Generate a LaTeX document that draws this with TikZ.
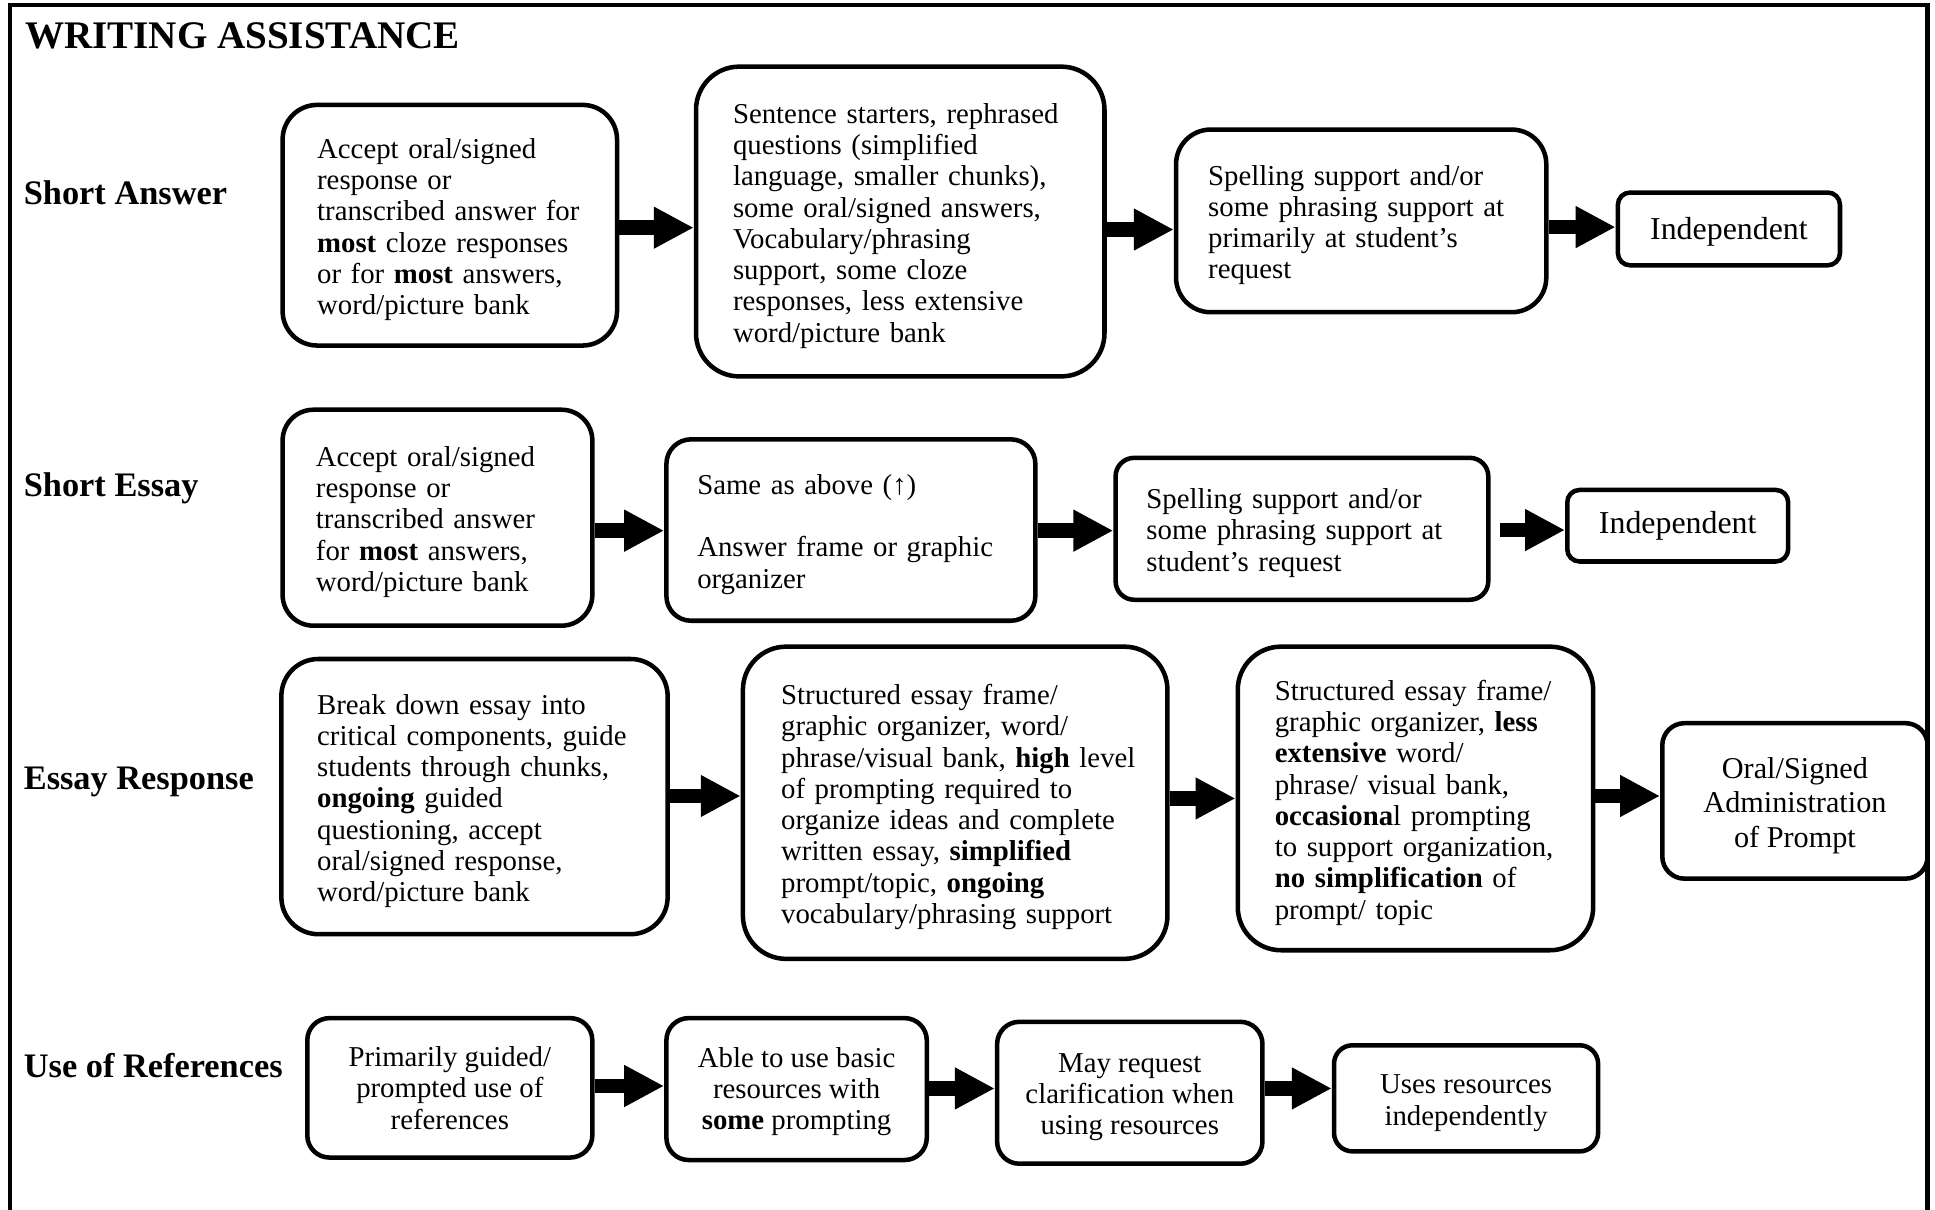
\documentclass[tikz,border=0pt]{standalone}
\usepackage{fontspec}
\setmainfont{Liberation Serif}
\usetikzlibrary{arrows.meta}
\newcommand{\lbx}[2][2.4pt]{\raisebox{-#1}[\height][\depth]{\begin{tabular}{@{}l@{}}#2\end{tabular}}}
\newcommand{\cbx}[2][2.4pt]{\raisebox{-#1}[\height][\depth]{\begin{tabular}{@{}c@{}}#2\end{tabular}}}
\tikzset{
  bx/.style={draw, line width=2.2pt, rounded corners=#1, inner sep=0pt},
  body/.style={font=\fontsize{14}{15.2}\selectfont},
  lbl/.style={font=\fontsize{16.7}{19}\selectfont\bfseries, anchor=base west, inner sep=0pt},
  ttl/.style={font=\fontsize{19}{23}\selectfont\bfseries, anchor=base west, inner sep=0pt},
  arr/.style={line width=7pt, -{Triangle[length=19.4pt,width=19pt]}},
  frame/.style={line width=2.2pt}
}
\begin{document}
\begin{tikzpicture}[x=0.6pt,y=-0.6pt]
\useasboundingbox (0,0) rectangle (1568,980);
\draw[frame] (8,982) -- (8,4) -- (1562,4) -- (1562,982);

\node[ttl] (title) at (20,39.5) {WRITING ASSISTANCE};
\node[lbl] (l1) at (19,166) {Short Answer};
\node[lbl] (l2) at (19,402) {Short Essay};
\node[lbl] (l3) at (19,640) {Essay Response};
\node[lbl] (l4) at (19,873) {Use of References};

% Row 1
\node[bx=16.8pt, body, minimum width=162.6pt, minimum height=117pt, text width=129pt, align=left] (a1) at (364.5,182.5)
 {\lbx{Accept oral/signed\\ response or\\ transcribed answer for\\ \textbf{most} cloze responses\\ or for \textbf{most} answers,\\ word/picture bank}};
\node[bx=21pt, body, minimum width=198.6pt, minimum height=150.6pt, text width=162.6pt, align=left] (a2) at (729.5,179.5)
 {\lbx{Sentence starters, rephrased\\ questions (simplified\\ language, smaller chunks),\\ some oral/signed answers,\\ Vocabulary/phrasing\\ support, some cloze\\ responses, less extensive\\ word/picture bank}};
\node[bx=16.8pt, body, minimum width=180pt, minimum height=88.8pt, text width=148.8pt, align=left] (a3) at (1103,179)
 {\lbx{Spelling support and/or\\ some phrasing support at\\ primarily at student’s\\ request}};
\node[bx=6pt, font=\fontsize{15.5}{17}\selectfont, minimum width=108pt, minimum height=35.4pt] (a4) at (1401,185.5) {\cbx[1.8pt]{Independent}};

% Row 2
\node[bx=15pt, body, minimum width=150.6pt, minimum height=105pt, text width=118.2pt, align=left] (b1) at (354.5,419.5)
 {\lbx{Accept oral/signed\\ response or\\ transcribed answer\\ for \textbf{most} answers,\\ word/picture bank}};
\node[bx=12pt, body, minimum width=179.4pt, minimum height=88.2pt, text width=149.4pt, align=left] (b2) at (689.5,429.5)
 {\lbx{Same as above (↑)\\ \\ Answer frame or graphic\\ organizer}};
\node[bx=9pt, body, minimum width=181.2pt, minimum height=69pt, text width=151.2pt, align=left] (b3) at (1055,428.5)
 {\lbx{Spelling support and/or\\ some phrasing support at\\ student’s request}};
\node[bx=6pt, font=\fontsize{15.5}{17}\selectfont, minimum width=107.4pt, minimum height=34.8pt] (b4) at (1359.5,426) {\cbx[0.6pt]{Independent}};

% Row 3
\node[bx=18pt, body, minimum width=187.8pt, minimum height=133.8pt, text width=153pt, align=left] (c1) at (384.5,645.5)
 {\lbx{Break down essay into\\ critical components, guide\\ students through chunks,\\ \textbf{ongoing} guided\\ questioning, accept\\ oral/signed response,\\ word/picture bank}};
\node[bx=21pt, body, minimum width=206.4pt, minimum height=151.8pt, text width=169.2pt, align=left] (c2) at (774,650.5)
 {\lbx{Structured essay frame/\\ graphic organizer, word/\\ phrase/visual bank, \textbf{high} level\\ of prompting required to\\ organize ideas and complete\\ written essay, \textbf{simplified}\\ prompt/topic, \textbf{ongoing}\\ vocabulary/phrasing support}};
\node[bx=21pt, body, minimum width=172.8pt, minimum height=147.6pt, text width=136.8pt, align=left] (c3) at (1147,647)
 {\lbx{Structured essay frame/\\ graphic organizer, \textbf{less}\\ \textbf{extensive} word/\\ phrase/ visual bank,\\ \textbf{occasiona}l prompting\\ to support organization,\\ \textbf{no simplification} of\\ prompt/ topic}};
\node[bx=10.8pt, font=\fontsize{14.7}{16.8}\selectfont, minimum width=129pt, minimum height=75.6pt] (c4) at (1454.5,649)
 {\cbx{Oral/Signed\\ Administration\\ of Prompt}};

% Row 4
\node[bx=10.8pt, body, minimum width=138.6pt, minimum height=67.8pt] (d1) at (364.5,881.5)
 {\cbx[1.8pt]{Primarily guided/\\ prompted use of\\ references}};
\node[bx=10.8pt, body, minimum width=126.6pt, minimum height=69pt] (d2) at (645.5,882.5)
 {\cbx[1.5pt]{Able to use basic\\ resources with\\ \textbf{some} prompting}};
\node[bx=10.8pt, body, minimum width=129pt, minimum height=69pt] (d3) at (915.5,885.5)
 {\cbx[2.2pt]{May request\\ clarification when\\ using resources}};
\node[bx=9pt, body, minimum width=128.4pt, minimum height=51.6pt] (d4) at (1188,890)
 {\cbx{Uses resources\\ independently}};

% Arrows
\draw[arr] (a1.east |- 0,184.5) -- (a2.west |- 0,184.5);
\draw[arr] (a2.east |- 0,186) -- (a3.west |- 0,186);
\draw[arr] (a3.east |- 0,184) -- (a4.west |- 0,184);
\draw[arr] (b1.east |- 0,430) -- (b2.west |- 0,430);
\draw[arr] (b2.east |- 0,430) -- (b3.west |- 0,430);
\draw[arr] ([xshift=4.5pt]b3.east |- 0,429.5) -- (b4.west |- 0,429.5);
\draw[arr] (c1.east |- 0,645) -- (c2.west |- 0,645);
\draw[arr] (c2.east |- 0,647) -- (c3.west |- 0,647);
\draw[arr] (c3.east |- 0,645) -- (c4.west |- 0,645);
\draw[arr] (d1.east |- 0,880) -- (d2.west |- 0,880);
\draw[arr] (d2.east |- 0,882) -- (d3.west |- 0,882);
\draw[arr] (d3.east |- 0,882) -- (d4.west |- 0,882);
\end{tikzpicture}
\end{document}
